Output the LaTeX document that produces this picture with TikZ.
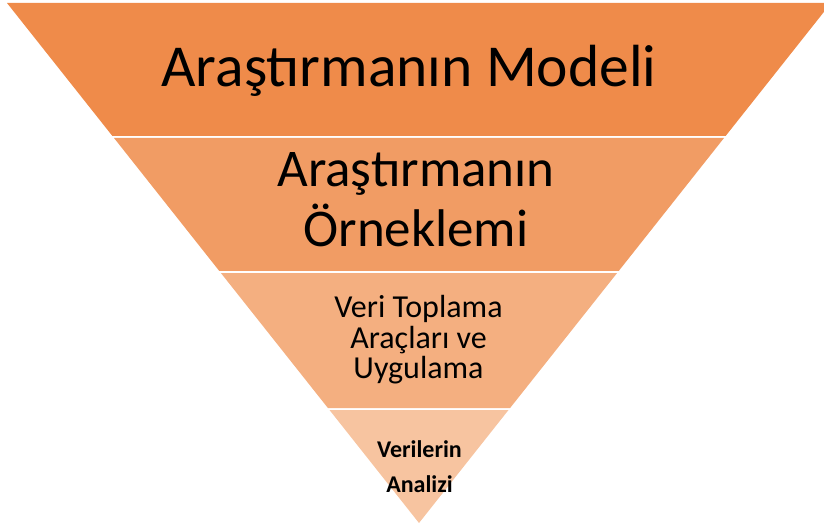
\documentclass[tikz,border=0pt]{standalone}
\usepackage{fontspec}
\setmainfont{Carlito}
\definecolor{bandA}{HTML}{EF8B4A}
\definecolor{bandB}{HTML}{F19C64}
\definecolor{bandC}{HTML}{F4AF80}
\definecolor{bandD}{HTML}{F7C4A0}
\begin{document}
\begin{tikzpicture}[x=1pt,y=-1pt,
  lbl/.style={anchor=base,inner sep=0pt,text=black}]
\useasboundingbox (0,0) rectangle (824,529);
\clip (0,0) rectangle (824,529);
\fill[bandA] (7,3) -- (831,3) -- (725.6,136) -- (112.4,136) -- cycle;
\fill[bandB] (114,138) -- (724,138) -- (618.7,271) -- (219.3,271) -- cycle;
\fill[bandC] (220.9,273) -- (617.1,273) -- (510.1,408) -- (327.9,408) -- cycle;
\fill[bandD] (329.5,410) -- (508.5,410) -- (419,523) -- cycle;
\node[lbl,font=\fontsize{59.5}{70}\selectfont] (t1) at (409,87) {Araştırmanın Modeli};
\node[lbl,font=\fontsize{53}{60}\selectfont] (t2a) at (416,187) {Araştırmanın};
\node[lbl,font=\fontsize{53}{60}\selectfont] (t2b) at (416,247) {Örneklemi};
\node[lbl,font=\fontsize{32}{31}\selectfont] (t3a) at (418.5,317) {Veri Toplama};
\node[lbl,font=\fontsize{32}{31}\selectfont] (t3b) at (418.5,348) {Araçları ve};
\node[lbl,font=\fontsize{32}{31}\selectfont] (t3c) at (418.5,378) {Uygulama};
\node[lbl,font=\bfseries\fontsize{24}{28}\selectfont] (t4a) at (419.5,457) {Verilerin};
\node[lbl,font=\bfseries\fontsize{24}{28}\selectfont] (t4b) at (419.5,492) {Analizi};
\end{tikzpicture}
\end{document}
